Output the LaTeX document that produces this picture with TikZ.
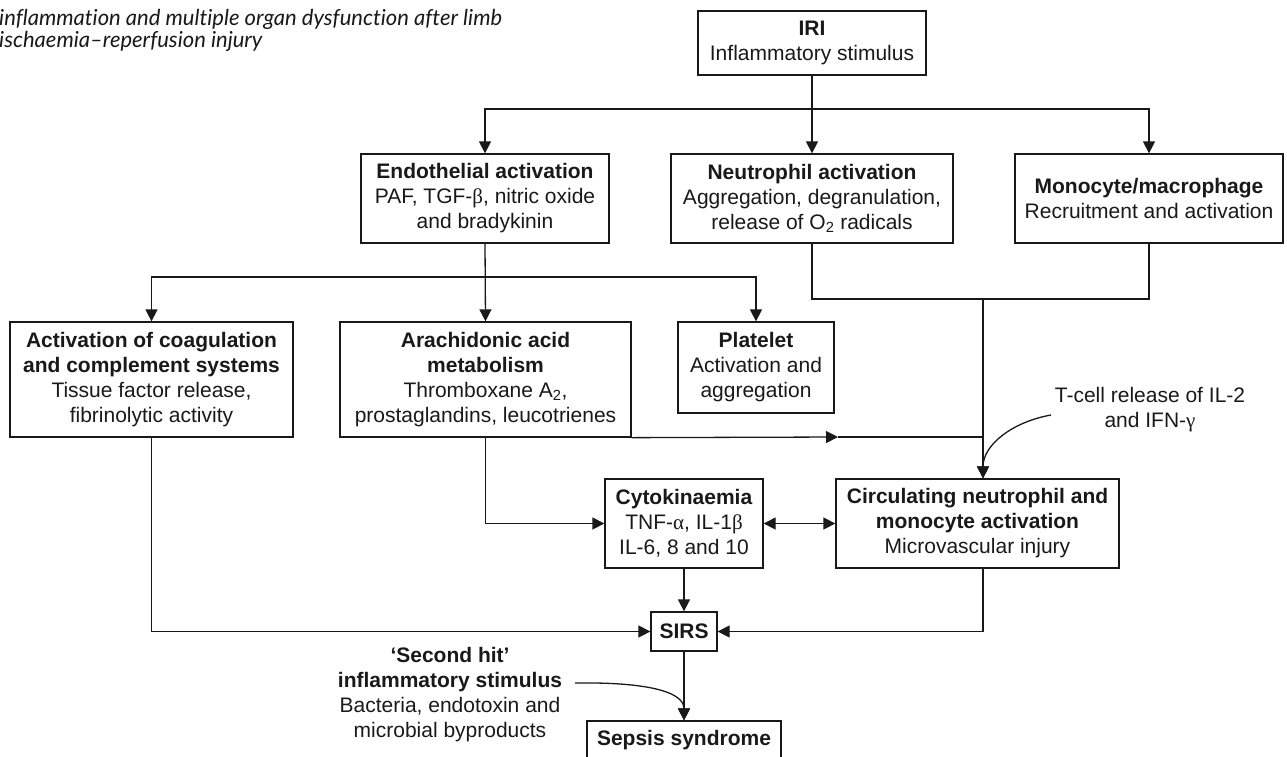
\documentclass[tikz,border=0pt]{standalone}
\usepackage{fontspec}
\setmainfont{Liberation Sans}
\newfontfamily\grkfont{Liberation Serif}
\newfontfamily\capfont[Ligatures=NoCommon]{Lato}
\usetikzlibrary{arrows.meta}

\newcommand{\gk}[1]{{\grkfont #1}}

\tikzset{
  ink/.style={draw=black!90, line width=1.3pt},
  box/.style={ink, align=center, inner sep=0pt, font=\fontsize{21}{25}\selectfont, text=black!90},
  txt/.style={align=center, inner sep=0pt, font=\fontsize{21}{25}\selectfont, text=black!90},
  captext/.style={inner sep=0pt, font=\capfont\itshape\fontsize{22}{22}\selectfont, text=black!90},
  arr/.style={ink, -{Triangle[length=12pt,width=12pt]}},
  dblarr/.style={ink, {Triangle[length=12pt,width=12pt]}-{Triangle[length=12pt,width=12pt]}}
}

\begin{document}
\begin{tikzpicture}[x=1pt,y=-1pt]
	\useasboundingbox (0,0) rectangle (1287,756);
	% caption (cut off in the source)
	\node[captext, anchor=base west] (cap1) at (-1,25) {inflammation and multiple organ dysfunction after limb};
	\node[captext, anchor=base west] (cap2) at (-1,47) {ischaemia–reperfusion injury};
	% boxes
	\node[box, minimum width=228, minimum height=64] (iri) at (812,43) {\textbf{IRI}\\Inflammatory stimulus};
	\node[box, minimum width=248, minimum height=89] (endo) at (485,198.5) {\textbf{Endothelial activation}\\PAF, TGF-\gk{β}, nitric oxide\\and bradykinin};
	\node[box, minimum width=282, minimum height=89] (neut) at (812,198.5) {\textbf{Neutrophil activation}\\Aggregation, degranulation,\\release of O\textsubscript{2} radicals};
	\node[box, minimum width=268, minimum height=89] (mono) at (1149,198.5) {\textbf{Monocyte/macrophage}\\Recruitment and activation};
	\node[box, minimum width=283, minimum height=115] (coag) at (151.5,379.5) {\textbf{Activation of coagulation}\\\textbf{and complement systems}\\Tissue factor release,\\fibrinolytic activity};
	\node[box, minimum width=291, minimum height=115] (arach) at (485.5,379.5) {\textbf{Arachidonic acid}\\\textbf{metabolism}\\Thromboxane A\textsubscript{2},\\prostaglandins, leucotrienes};
	\node[box, minimum width=156, minimum height=91] (plat) at (756,367.5) {\textbf{Platelet}\\Activation and\\aggregation};
	\node[box, minimum width=158, minimum height=89] (cyto) at (684,523.5) {\textbf{Cytokinaemia}\\TNF-\gk{α}, IL-1\gk{β}\\IL-6, 8 and 10};
	\node[box, minimum width=283, minimum height=89] (circ) at (977.5,523.5) {\textbf{Circulating neutrophil and}\\\textbf{monocyte activation}\\Microvascular injury};
	\node[box, minimum width=66, minimum height=39] (sirs) at (684,631.5) {\textbf{SIRS}};
	\node[box, minimum width=194, minimum height=38] (sepsis) at (684,740) {\textbf{Sepsis syndrome}};
	% side texts
	\node[txt] (tcell) at (1150,410) {T-cell release of IL-2\\and IFN-\gk{γ}};
	\node[txt] (hit) at (450,695) {\textbf{‘Second hit’}\\\textbf{inflammatory stimulus}\\Bacteria, endotoxin and\\microbial byproducts};
	% junctions
	\coordinate (split1) at (812,109);
	\coordinate (split2) at (485,277);
	\coordinate (merge) at (983,299);
	\coordinate (midtip) at (838,437);
	\coordinate (tstart) at (1051,415);
	\coordinate (hitstart) at (575,683);
	% connectors
	\draw[arr] (iri.south) -- (neut.north);
	\draw[arr] (split1) -| (endo.north);
	\draw[arr] (split1) -| (mono.north);
	\draw[arr] (endo.south) -- (arach.north);
	\draw[arr] (split2) -| (coag.north);
	\draw[arr] (split2) -| (plat.north);
	\draw[ink] (neut.south) |- (merge) -| (mono.south);
	\draw[arr] (merge) -- (merge |- circ.north);
	\draw[arr] (arach.south east) -- (midtip);
	\draw[ink] (midtip) -- (merge |- midtip);
	\draw[arr] (arach.south) |- (cyto.west);
	\draw[dblarr] (cyto.east) -- (circ.west);
	\draw[arr] (cyto.south) -- (sirs.north);
	\draw[arr] (coag.south) |- (sirs.west);
	\draw[arr] (circ.south -| merge) |- (sirs.east);
	\draw[arr] (sirs.south) -- (sepsis.north);
	\draw[arr] (tstart) .. controls (1012,422) and (983,445) .. (merge |- circ.north);
	\draw[arr] (hitstart) .. controls (640,682) and (684,690) .. (sepsis.north);
\end{tikzpicture}
\end{document}
